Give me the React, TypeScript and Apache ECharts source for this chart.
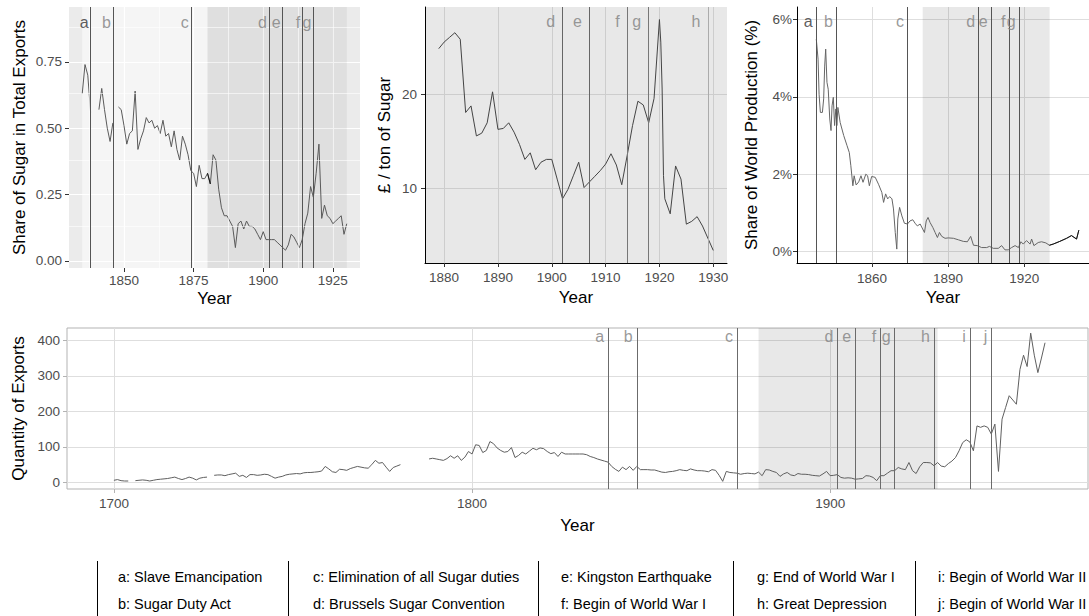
import React, { useEffect, useRef } from "react";
import * as echarts from "echarts";

const FONT = '"Liberation Sans", Arial, Helvetica, sans-serif';

// ---- events ----
const EVENT_LETTERS = ["a", "b", "c", "d", "e", "f", "g", "h", "i", "j"];
const EVENT_YEARS = [1838, 1846, 1874, 1902, 1907, 1914, 1918, 1929, 1939, 1945];
const EVENT_NAMES = [
  "Slave Emancipation",
  "Sugar Duty Act",
  "Elimination of all Sugar duties",
  "Brussels Sugar Convention",
  "Kingston Earthquake",
  "Begin of World War I",
  "End of World War I",
  "Great Depression",
  "Begin of World War II",
  "Begin of World War II",
];

// ---- panel 1: share of sugar in total exports (1835..1930) ----
const SHARE_FIRST_YEAR = 1835;
const SHARE_VALUES: (number | null)[] = [
  0.63, 0.74, 0.70, 0.56, null,
  null, 0.57, 0.65, 0.57, 0.50, 0.45, 0.52, null, 0.58, 0.57,
  0.51, 0.44, 0.48, 0.49, 0.64, 0.42, 0.46, 0.49, 0.54, 0.52,
  0.53, 0.50, 0.51, 0.48, 0.53, 0.47, 0.48, 0.43, 0.49, 0.42,
  0.38, 0.47, 0.44, 0.40, 0.34, 0.33, 0.28, 0.36, 0.31, 0.31,
  0.33, 0.29, 0.40, 0.38, 0.27, 0.20, 0.17, 0.17, 0.15, 0.13,
  0.05, 0.14, 0.15, 0.12, 0.15, 0.13, 0.13, 0.12, 0.10, 0.08,
  0.11, 0.08, 0.08, 0.08, 0.08, 0.07, 0.06, 0.05, 0.04, 0.06,
  0.10, 0.09, 0.07, 0.05, 0.08, 0.14, 0.18, 0.28, 0.24, 0.33,
  0.44, 0.16, 0.21, 0.17, 0.16, 0.14, 0.15, 0.16, 0.17, 0.10, 0.14,
];

// ---- panel 2: £ / ton of sugar ----
const PRICE_YEARS = [
  1879, 1880, 1881, 1882, 1883, 1884, 1885, 1886, 1887, 1888, 1889,
  1890, 1891, 1892, 1893, 1894, 1895, 1896, 1897, 1898, 1899,
  1900, 1901, 1902, 1903, 1904, 1905, 1906, 1907, 1908, 1909,
  1910, 1911, 1912, 1913, 1914, 1915, 1916, 1917, 1918, 1919,
  1920, 1920.25, 1920.5, 1920.75, 1921, 1922, 1923, 1924, 1925, 1926,
  1927, 1928, 1929, 1930,
];
const PRICE_VALUES = [
  24.9, 25.6, 26.1, 26.6, 25.9, 18.1, 18.8, 15.6, 15.9, 17.0, 20.3,
  16.3, 16.4, 17.0, 16.0, 14.7, 13.1, 13.8, 12.0, 12.8, 13.1,
  13.1, 11.0, 8.9, 9.9, 11.35, 12.8, 10.1, 10.7, 11.3, 11.9,
  12.6, 13.7, 12.5, 10.4, 13.5, 16.7, 19.3, 18.9, 17.0, 19.6,
  28.0, 25.6, 20.6, 11.4, 8.9, 7.3, 12.4, 11.0, 6.2, 6.5,
  7.0, 6.0, 4.7, 3.4,
];

// ---- panel 3: share of world production (%) ----
const WORLD_YEARS = [
  1838.1, 1838.8, 1839.2, 1839.7, 1840.5, 1841.0, 1841.4, 1841.8, 1842.3, 1842.8,
  1843.4, 1843.9, 1844.3, 1844.8, 1845.3, 1845.8, 1846.2, 1846.6, 1847.5, 1848.9,
  1850.2, 1851.1, 1851.7, 1852.5, 1853.0, 1853.8, 1854.8, 1855.7, 1856.5, 1857.6,
  1858.3, 1859.0, 1859.9, 1861.3, 1862.6, 1863.9, 1864.6, 1865.4, 1866.2, 1867.0,
  1867.9, 1868.5, 1869.2, 1869.8, 1870.2, 1870.9, 1871.8, 1872.8, 1874.0, 1875.0,
  1876.1, 1877.0, 1877.9, 1879.0, 1880.0, 1880.7, 1881.4, 1882.1, 1882.9, 1884.0,
  1884.9, 1885.8, 1886.6, 1887.5, 1888.8, 1890.1, 1892.1, 1894.1, 1896.0, 1897.6,
  1898.9, 1900.0, 1901.5, 1903.2, 1905.2, 1906.3, 1907.8, 1909.8, 1911.1, 1912.4,
  1913.7, 1915.0, 1916.4, 1917.7, 1918.7, 1919.6, 1920.9, 1922.3, 1922.9, 1923.8,
  1925.5, 1926.8, 1928.5, 1929.9, 1931.4, 1934.0, 1936.7, 1938.6, 1940.6, 1941.5,
];
const WORLD_VALUES = [
  5.5, 4.98, 4.07, 3.6, 3.6, 3.95, 4.8, 5.24, 4.38, 4.2,
  3.43, 3.13, 3.77, 3.99, 3.26, 3.69, 3.26, 3.73, 3.34, 3.0,
  2.74, 2.56, 2.22, 1.7, 1.96, 1.72, 1.8, 1.96, 1.79, 2.0,
  1.96, 1.7, 1.94, 1.92, 1.74, 1.53, 1.27, 1.49, 1.36, 1.42,
  1.36, 1.1, 0.49, 0.06, 0.84, 1.14, 0.92, 0.73, 0.71, 0.79,
  0.82, 0.73, 0.66, 0.71, 0.58, 0.49, 0.79, 0.88, 0.75, 0.62,
  0.49, 0.36, 0.49, 0.39, 0.34, 0.35, 0.34, 0.30, 0.26, 0.25,
  0.39, 0.16, 0.15, 0.10, 0.10, 0.13, 0.08, 0.08, 0.15, 0.04,
  0.04, 0.10, 0.15, 0.10, 0.25, 0.19, 0.28, 0.19, 0.32, 0.15,
  0.23, 0.25, 0.22, 0.16, 0.19, 0.26, 0.34, 0.41, 0.32, 0.55,
];

// ---- bottom panel: quantity of exports (1700..1960) ----
const QTY_FIRST_YEAR = 1700;
const QTY_VALUES: (number | null)[] = [
  6, 8, 5, 4, 4, null, 5, 6, 7, 6,
  4, 6, 8, 9, 10, 11, 13, 15, 11, 8,
  11, 15, 12, 7, 12, 14, 15, null, 20, 21,
  21, 19, 22, 24, 26, 17, 20, 14, 22, 22,
  20, 21, 23, 22, 17, 12, 15, 17, 21, 23,
  24, 25, 24, 27, 28, 28, 29, 30, 32, 45,
  38, 30, 28, 37, 36, 34, 39, 42, 45, 43,
  41, 40, 50, 62, 54, 56, 43, 31, 42, 46,
  50, null, null, null, null, null, null, null, 66, 68,
  66, 64, 62, 67, 75, 68, 75, 62, 71, 87,
  80, 106, 104, 84, 90, 115, 109, 97, 90, 85,
  87, 98, 70, 76, 85, 80, 88, 96, 92, 97,
  95, 87, 81, 84, 73, 85, 80, 80, 80, 80,
  80, 80, 78, 73, 70, 66, 63, 60, 57, 45,
  37, 31, 43, 36, 45, 34, 45, 36, 36, 36,
  35, 35, 32, 29, 28, 30, 31, 33, 36, 34,
  33, 38, 35, 33, 33, 32, 30, 36, 34, 20,
  3, 31, 28, 27, 26, 23, 25, 26, 25, 24,
  29, 19, 36, 35, 31, 28, 17, 24, 28, 21,
  19, 25, 23, 23, 22, 20, 19, 18, 24, 31,
  19, 20, 22, 14, 12, 13, 12, 9, 10, 11,
  19, 18, 14, 5, 19, 19, 26, 33, 33, 42,
  38, 36, 56, 33, 25, 44, 56, 56, 55, 47,
  56, 46, 44, 53, 60, 70, 89, 112, 120, 114,
  89, 159, 155, 159, 155, 136, 164, 31, 178, 211,
  244, 232, 220, 318, 358, 326, 420, 358, 309, 350, 393,
];

// ---- tick values ----
const P1_X_TICKS = [1850, 1875, 1900, 1925];
const P1_Y_TICKS = [0, 0.25, 0.5, 0.75];
const P1_X_MINOR = [1837.5, 1862.5, 1887.5, 1912.5];
const P1_Y_MINOR = [0.125, 0.375, 0.625, 0.875];
const P2_X_TICKS = [1880, 1890, 1900, 1910, 1920, 1930];
const P2_Y_TICKS = [10, 20];
const P3_X_TICKS = [1860, 1890, 1920];
const P3_Y_TICKS = [0, 2, 4, 6];
const P4_X_TICKS = [1700, 1800, 1900];
const P4_Y_TICKS = [0, 100, 200, 300, 400];

const SHADE_FROM = 1880;
const SHADE_TO = 1930;
const LIGHT_FROM = 1835;

function seqPairs(start: number, values: (number | null)[]) {
  return values.map((v, i) => [start + i, v == null ? "-" : v]);
}
function zipPairs(xs: number[], ys: number[]) {
  return xs.map((x, i) => [x, ys[i]]);
}

function axis(gridIndex: number, min: number, max: number, ticks: number[], o: any) {
  return {
    type: "value",
    gridIndex,
    min,
    max,
    name: o.name,
    nameLocation: "middle",
    nameGap: o.nameGap,
    nameTextStyle: { color: "#000", fontSize: 17, fontFamily: FONT },
    axisLine: { show: !!o.line, onZero: false, lineStyle: { color: "#000", width: 1 } },
    axisTick: { show: true, length: 4, customValues: ticks, lineStyle: { color: o.tickColor, width: 1 } },
    axisLabel: {
      show: true,
      customValues: ticks,
      margin: o.margin,
      color: "#4D4D4D",
      fontSize: 13.5,
      fontFamily: FONT,
      formatter: o.fmt || ((v: number) => String(v)),
    },
    splitLine: { show: true, lineStyle: { color: o.gridColor, width: o.gridWidth || 1 } },
    minorTick: { show: false },
    minorSplitLine: { show: false },
  };
}

function eventLines(indices: number[], colorOf: (i: number) => string) {
  return {
    silent: true,
    symbol: ["none", "none"],
    label: { show: false },
    emphasis: { disabled: true },
    lineStyle: { type: "solid", width: 1 },
    data: indices.map((i) => ({ xAxis: EVENT_YEARS[i], lineStyle: { color: colorOf(i), type: "solid", width: 1 } })),
  };
}

function letters(axisIdx: number, indices: number[], y: number, dist: number, colorOf: (i: number) => string) {
  return {
    type: "scatter",
    xAxisIndex: axisIdx,
    yAxisIndex: axisIdx,
    z: 6,
    silent: true,
    symbolSize: 1,
    itemStyle: { color: "rgba(0,0,0,0)" },
    label: {
      show: true,
      position: "left",
      distance: dist,
      formatter: "{b}",
      fontSize: 16,
      fontFamily: FONT,
      color: "#808080",
    },
    data: indices.map((i) => ({
      name: EVENT_LETTERS[i],
      value: [EVENT_YEARS[i], y],
      label: { color: colorOf(i) },
    })),
  };
}

function helper(axisIdx: number, anchor: number[], z: number, extra: any) {
  return {
    type: "line",
    xAxisIndex: axisIdx,
    yAxisIndex: axisIdx,
    z,
    silent: true,
    showSymbol: false,
    symbol: "none",
    lineStyle: { opacity: 0 },
    data: [anchor],
    ...extra,
  };
}

function mainLine(axisIdx: number, data: any[], color: string, z: number, extra: any = {}) {
  return {
    type: "line",
    xAxisIndex: axisIdx,
    yAxisIndex: axisIdx,
    z,
    silent: true,
    showSymbol: false,
    symbol: "none",
    connectNulls: false,
    lineStyle: { color, width: 1 },
    data,
    ...extra,
  };
}

function buildOption() {
  const sharePairs = seqPairs(SHARE_FIRST_YEAR, SHARE_VALUES);
  const pricePairs = zipPairs(PRICE_YEARS, PRICE_VALUES);
  const worldPairs = zipPairs(WORLD_YEARS, WORLD_VALUES);
  const qtyPairs = seqPairs(QTY_FIRST_YEAR, QTY_VALUES);

  const idxAG = [0, 1, 2, 3, 4, 5, 6];
  const idxDH = [3, 4, 5, 6, 7];
  const idxAll = [0, 1, 2, 3, 4, 5, 6, 7, 8, 9];

  const shadeArea = (color: string) => ({
    silent: true,
    itemStyle: { color },
    emphasis: { disabled: true },
    data: [[{ xAxis: SHADE_FROM }, { xAxis: SHADE_TO }]],
  });

  // legend graphic
  const sepX = [97, 288, 538, 733, 915];
  const textX = [118, 313, 561, 757, 938];
  const rowY = [577, 604];
  const graphics: any[] = [];
  sepX.forEach((x) => {
    graphics.push({
      type: "line",
      silent: true,
      shape: { x1: x + 0.5, y1: 561, x2: x + 0.5, y2: 616 },
      style: { stroke: "#000", lineWidth: 1 },
    });
  });
  EVENT_LETTERS.forEach((l, i) => {
    const col = Math.floor(i / 2);
    const row = i % 2;
    graphics.push({
      type: "text",
      silent: true,
      x: textX[col],
      y: rowY[row],
      style: {
        text: `${l}: ${EVENT_NAMES[i]}`,
        fill: "#000",
        fontSize: 14.5,
        fontFamily: FONT,
        align: "left",
        verticalAlign: "middle",
      },
    });
  });

  return {
    animation: false,
    backgroundColor: "#fff",
    textStyle: { fontFamily: FONT },
    grid: [
      { left: 69, top: 7, width: 291, height: 261, show: true, backgroundColor: "#EBEBEB", borderWidth: 0 },
      { left: 425, top: 7, width: 302, height: 256, show: true, backgroundColor: "#E8E8E8", borderWidth: 0 },
      { left: 797, top: 7, width: 292, height: 256, show: false },
      { left: 67, top: 328, width: 1021, height: 161, show: true, backgroundColor: "#fff", borderColor: "#B3B3B3", borderWidth: 1 },
    ],
    xAxis: [
      axis(0, 1830.25, 1934.75, P1_X_TICKS, { name: "Year", nameGap: 22, margin: 5, tickColor: "#333", gridColor: "#fff", gridWidth: 1.1 }),
      axis(1, 1876.45, 1932.55, P2_X_TICKS, { name: "Year", nameGap: 26, margin: 7, line: true, tickColor: "#333", gridColor: "#CDCDCD" }),
      axis(2, 1830.5, 1945.5, P3_X_TICKS, { name: "Year", nameGap: 26, margin: 8, line: true, tickColor: "#333", gridColor: "#DEDEDE" }),
      axis(3, 1686.9, 1972, P4_X_TICKS, { name: "Year", nameGap: 28, margin: 7, tickColor: "#B3B3B3", gridColor: "#DEDEDE" }),
    ],
    yAxis: [
      axis(0, -0.027, 0.957, P1_Y_TICKS, {
        name: "Share of Sugar in Total Exports", nameGap: 41, margin: 7, tickColor: "#333", gridColor: "#fff", gridWidth: 1.1,
        fmt: (v: number) => v.toFixed(2),
      }),
      axis(1, 2.06, 29.34, P2_Y_TICKS, { name: "£ / ton of Sugar", nameGap: 32, margin: 8, line: true, tickColor: "#333", gridColor: "#CDCDCD" }),
      axis(2, -0.3, 6.33, P3_Y_TICKS, {
        name: "Share of World Production (%)", nameGap: 37, margin: 5, line: true, tickColor: "#333", gridColor: "#DEDEDE",
        fmt: (v: number) => `${v}%`,
      }),
      axis(3, -18.5, 434.5, P4_Y_TICKS, { name: "Quantity of Exports", nameGap: 39, margin: 7, tickColor: "#B3B3B3", gridColor: "#DEDEDE" }),
    ],
    series: [
      // ---- panel 1 ----
      helper(0, [1850, 0.5], 1, {
        markLine: {
          silent: true,
          symbol: ["none", "none"],
          label: { show: false },
          emphasis: { disabled: true },
          lineStyle: { color: "#fff", width: 0.6, type: "solid" },
          data: [
            ...P1_Y_MINOR.map((v) => ({ yAxis: v })),
            ...P1_X_MINOR.map((v) => ({ xAxis: v })),
          ],
        },
      }),
      helper(0, [1850, 0.5], 2, {
        markArea: {
          silent: true,
          emphasis: { disabled: true },
          data: [
            [{ xAxis: LIGHT_FROM, itemStyle: { color: "rgba(255,255,255,0.5)" } }, { xAxis: SHADE_FROM }],
            [{ xAxis: SHADE_FROM, itemStyle: { color: "rgba(0,0,0,0.05)" } }, { xAxis: SHADE_TO }],
          ],
        },
      }),
      mainLine(0, sharePairs, "#5a5a5a", 3, { markLine: eventLines(idxAG, () => "#555") }),
      mainLine(0, sharePairs.filter((p) => p[0] >= 1880 && p[0] <= 1881), "#111", 4),
      letters(0, idxAG, 0.9, 1.5, (i) => (i === 0 ? "#333" : "#808080")),

      // ---- panel 2 ----
      mainLine(1, pricePairs, "#444", 3, {
        markLine: eventLines(idxDH, (i) => (i === 7 ? "#ABABAB" : i >= 5 ? "#777" : "#666")),
      }),
      letters(1, idxDH, 27.8, 7, () => "#808080"),

      // ---- panel 3 ----
      helper(2, [1860, 2], 2, { markArea: shadeArea("rgba(0,0,0,0.09)") }),
      mainLine(2, worldPairs, "#666", 3, { markLine: eventLines(idxAG, () => "#555") }),
      mainLine(2, worldPairs.filter((p) => p[0] >= 1929.9), "#111", 4),
      letters(2, idxAG, 5.95, 3, (i) => (i === 0 ? "#333" : "#808080")),

      // ---- bottom panel ----
      helper(3, [1800, 100], 2, { markArea: shadeArea("rgba(0,0,0,0.09)") }),
      mainLine(3, qtyPairs, "#5f5f5f", 3, { markLine: eventLines(idxAll, () => "#6b6b6b") }),
      letters(3, idxAll, 410, 3.5, () => "#808080"),
    ],
    graphic: { elements: graphics },
  };
}

export default function App() {
  const ref = useRef<HTMLDivElement>(null);
  useEffect(() => {
    if (!ref.current) return;
    const chart = echarts.init(ref.current, undefined, { renderer: "svg" });
    chart.setOption(buildOption() as any);
    return () => chart.dispose();
  }, []);
  return (
    <div
      ref={ref}
      style={{ position: "absolute", left: 0, top: 0, width: 1089, height: 616 }}
    />
  );
}
